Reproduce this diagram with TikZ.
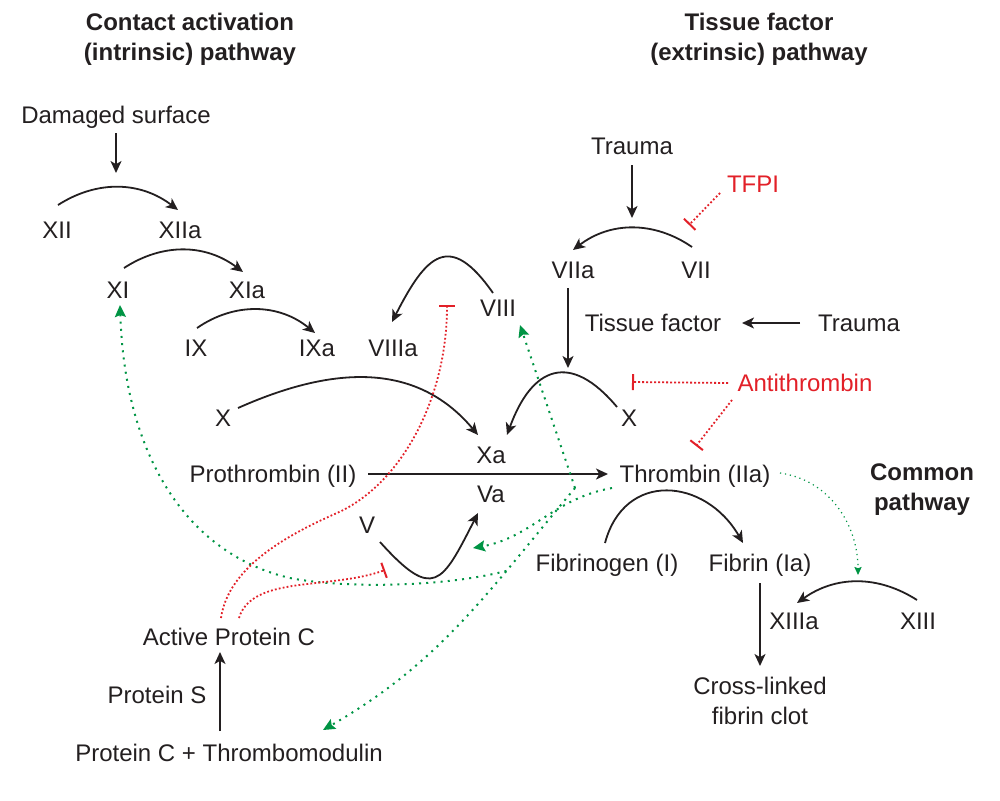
\documentclass[tikz,border=0pt]{standalone}
\usepackage{fontspec}
\setmainfont{Liberation Sans}
\usetikzlibrary{positioning, arrows.meta}

\definecolor{ink}{RGB}{35,31,32}
\definecolor{actgreen}{RGB}{0,148,68}
\definecolor{inhred}{RGB}{226,32,40}

\begin{document}
\begin{tikzpicture}[x=0.5pt,y=0.5pt,on grid,
    fac/.style={font=\fontsize{12}{15}\selectfont, inner sep=0pt, text height=8.6pt, text depth=0pt, text=ink},
    inhlbl/.style={fac, text=inhred},
    multi/.style={font=\fontsize{12}{15}\selectfont, inner sep=0pt, align=center, text=ink},
    hdr/.style={multi, font=\fontsize{12}{15}\selectfont\bfseries},
    act/.style={color=ink, line width=0.9pt, -{Stealth[length=6pt,width=5.5pt,inset=1.6pt]}},
    fb/.style={draw=actgreen, line width=1pt, dash pattern=on 1pt off 2.6pt, -{Stealth[length=6pt,width=5.5pt,inset=1pt]}},
    fbthin/.style={draw=actgreen, line width=0.6pt, dash pattern=on 0.6pt off 1.9pt, -{Stealth[length=4pt,width=3.6pt,inset=0.6pt]}},
    blk/.style={draw=inhred, line width=0.9pt, dash pattern=on 0.9pt off 1.1pt, -{Bar[width=8pt,line width=1pt]}}]
  \useasboundingbox (0,0) rectangle (1000,800);

  % headings
  \node[hdr] (intr) at (190,761) {Contact activation\\(intrinsic) pathway};
  \node[hdr] (extr) at (759,761) {Tissue factor\\(extrinsic) pathway};
  \node[hdr] (comm) at (922,310) {Common\\pathway};

  % intrinsic
  \node[fac] (dmg) at (116,685) {Damaged surface};
  \node[fac] (xii) at (57,570) {XII};
  \node[fac] (xiia) [right=61.5pt of xii] {XIIa};
  \node[fac] (xi) at (118,510) {XI};
  \node[fac] (xia) [right=64.5pt of xi] {XIa};
  \node[fac] (ix) at (196,452) {IX};
  \node[fac] (ixa) [right=60.5pt of ix] {IXa};
  \node[fac] (viiia) at (393,452) {VIIIa};
  \node[fac] (viii) at (498,492) {VIII};
  \node[fac] (xl) at (223,382) {X};

  % extrinsic
  \node[fac] (trA) at (632,654) {Trauma};
  \node[inhlbl] (tfpi) at (753,616) {TFPI};
  \node[fac] (viia) at (573,530) {VIIa};
  \node[fac] (vii) [right=61.5pt of viia] {VII};
  \node[fac] (tf) at (653,477) {Tissue factor};
  \node[fac] (trB) at (859,477) {Trauma};
  \node[inhlbl] (antith) at (805,417) {Antithrombin};
  \node[fac] (xr) at (629,382) {X};

  % common
  \node[fac] (xa) at (491,345) {Xa};
  \node[fac] (va) [below=19.5pt of xa] {Va};
  \node[fac] (proth) at (273,326) {Prothrombin (II)};
  \node[fac] (thr) at (695,326) {Thrombin (IIa)};
  \node[fac] (v) at (367,275) {V};
  \node[fac] (fbg) at (607,237) {Fibrinogen (I)};
  \node[fac] (fbn) [right=76.5pt of fbg] {Fibrin (Ia)};
  \node[fac] (xiiia) at (794,179) {XIIIa};
  \node[fac] (xiii) [right=62pt of xiiia] {XIII};
  \node[multi] (clot) at (760,99) {Cross-linked\\fibrin clot};

  % protein C
  \node[fac] (apc) at (229,163) {Active Protein C};
  \node[fac] (ps) at (157,105) {Protein S};
  \node[fac] (pctm) at (229,47) {Protein C + Thrombomodulin};

  \coordinate (c12) at (116,627);
  \coordinate (c7) at (632,582);
  \coordinate (c10) at (568,432);
  \coordinate (c13) at (858,225);
  \coordinate (c5) at (473,252);
  \coordinate (tsrc) at ([xshift=-60pt,yshift=-7pt]thr.center);
  \coordinate (b7) at (689,575);
  \coordinate (b10) at (632,418);
  \coordinate (b2) at (696,354);
  \coordinate (b8) at (447,495);
  \coordinate (b5) at (385,230);

  \path[act]
    ([yshift=-9pt]dmg.center) edge (c12)
    ([xshift=0.5pt,yshift=12.5pt]xii.center) edge[bend left=35] ([xshift=-1pt,yshift=10pt]xiia.center)
    ([xshift=3pt,yshift=11pt]xi.center) edge[bend left=35] ([xshift=-2pt,yshift=9pt]xia.center)
    ([xshift=0.5pt,yshift=10pt]ix.center) edge[bend left=37] ([xshift=-1pt,yshift=7.5pt]ixa.center)
    ([xshift=7.5pt,yshift=5pt]xl.center) edge[out=24,in=130,looseness=1.05] ([xshift=-6.5pt,yshift=10pt]xa.center)
    ([xshift=-2.5pt,yshift=7.5pt]viii.center) edge[out=125,in=63,looseness=1.85] ([xshift=-0.5pt,yshift=13pt]viiia.center)
    ([yshift=-9.5pt]trA.center) edge (c7)
    ([xshift=-2pt,yshift=11.5pt]vii.center) edge[bend right=36] ([yshift=10pt]viia.center)
    ([xshift=-2.5pt,yshift=-9pt]viia.center) edge (c10)
    ([xshift=-29.5pt]trB.center) edge ([xshift=44.5pt]tf.center)
    ([xshift=-6pt,yshift=5.5pt]xr.center) edge[out=130,in=70,looseness=1.65] ([xshift=8pt,yshift=10pt]xa.center)
    ([xshift=47.5pt]proth.center) edge ([xshift=-43.5pt]thr.center)
    ([xshift=6.5pt,yshift=-8.5pt]v.center) edge[out=-48,in=-117,looseness=2] ([xshift=-6.5pt,yshift=-9.5pt]va.center)
    ([xshift=-1pt,yshift=10pt]fbg.center) edge[out=75,in=120,looseness=1.4] ([xshift=-8.5pt,yshift=10pt]fbn.center)
    ([yshift=-10pt]fbn.center) edge ([yshift=17.5pt]clot.center)
    ([xshift=-0.5pt,yshift=10.5pt]xiii.center) edge[bend right=34] ([xshift=1.5pt,yshift=9pt]xiiia.center)
    ([xshift=-4.5pt,yshift=11pt]pctm.center) edge ([xshift=-4.5pt,yshift=-7.5pt]apc.center);

  % thrombin feedback
  \draw[fb] (tsrc) -- ([xshift=11pt,yshift=-8.5pt]viii.center);
  \draw[fb] (tsrc) to[out=-130,in=30] coordinate[pos=0.29] (xsplit) ([xshift=47pt,yshift=11.5pt]pctm.center);
  \draw[fb] (xsplit) .. controls (440,212) and (340,212) .. (290,222)
    .. controls (190,245) and (125,340) .. ([xshift=1pt,yshift=-7.5pt]xi.center);
  \draw[fb] ([xshift=-41.5pt,yshift=-7pt]thr.center) to[out=190,in=10] (c5);
  \draw[fbthin] ([xshift=42.5pt,yshift=0.5pt]thr.center) to[out=-8,in=90] (c13);

  % inhibitors
  \draw[blk] ([xshift=-16.5pt,yshift=-4.5pt]tfpi.center) -- (b7);
  \draw[blk] ([xshift=-38.5pt]antith.center) -- (b10);
  \draw[blk] ([xshift=-36.5pt,yshift=-8.5pt]antith.center) -- (b2);
  \draw[blk] ([xshift=-4pt,yshift=9.5pt]apc.center) .. controls (228,230) and (280,262) .. (337,287)
    .. controls (400,315) and (447,400) .. (b8);
  \draw[blk] ([xshift=5pt,yshift=9.5pt]apc.center) .. controls (252,225) and (330,210) .. (b5);
\end{tikzpicture}
\end{document}
